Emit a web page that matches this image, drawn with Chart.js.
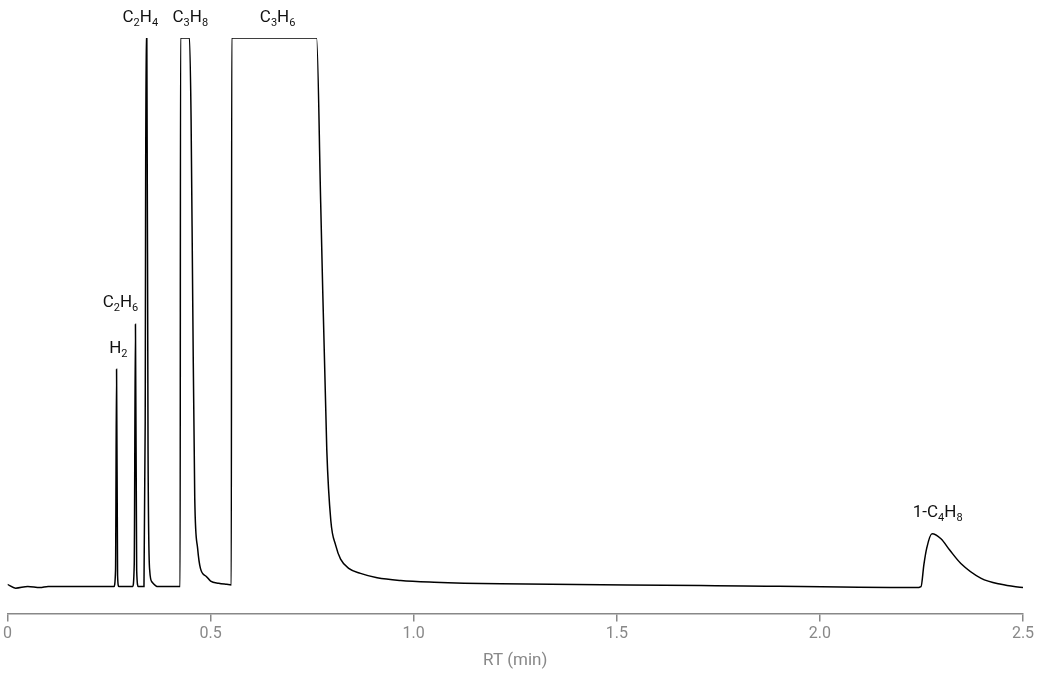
<!DOCTYPE html>
<html>
<head>
<meta charset="utf-8">
<script src="https://cdn.jsdelivr.net/npm/chart.js@4"></script>
<style>
  html, body { margin: 0; padding: 0; background: #fff; }
  #wrap { width: 1045px; height: 687px; }
</style>
</head>
<body>
<div id="wrap"><canvas id="gc"></canvas></div>
<script>
// retention time (min) and detector signal (% of clipped top)
var rt = [0, 0.02, 0.05, 0.08, 0.1, 0.2, 0.262, 0.266, 0.2685, 0.271, 0.274,
  0.308, 0.312, 0.315, 0.318, 0.322, 0.336, 0.339, 0.341, 0.343, 0.346, 0.35, 0.356, 0.37, 0.425,
  0.426, 0.448, 0.452, 0.456, 0.461, 0.468, 0.475, 0.49, 0.5, 0.52, 0.54, 0.551,
  0.552, 0.761, 0.771, 0.786, 0.796, 0.808, 0.82, 0.84, 0.869, 0.91, 0.968, 1.05, 1.214, 1.707, 2.236,
  2.249, 2.256, 2.263, 2.276, 2.298, 2.32, 2.347, 2.397, 2.446, 2.5];
var signal = [0.4, -0.3, 0.0, -0.2, 0, 0, 0, 3, 39.6, 2, 0,
  0, 4, 47.8, 3, 0, 0, 30, 100, 100, 25, 3, 0.8, 0, 0,
  100, 100, 85, 52, 16, 7, 3.3, 1.8, 1.0, 0.6, 0.4, 0.3,
  100, 100, 70, 25, 12, 7.5, 5, 3.3, 2.4, 1.6, 1.1, 0.8, 0.5, 0.2, -0.2,
  0, 4, 7, 9.6, 8.7, 6.6, 4.2, 1.5, 0.4, -0.2];

var peakNames = ['H_2', 'C_2H_6', 'C_2H_4', 'C_3H_8', 'C_3H_6', '1-C_4H_8'];
var peakRt = [0.273, 0.278, 0.327, 0.45, 0.665, 2.29];
var peakLabelY = [42.5, 51, 103, 103, 103, 12.7];

var mainFont = 'Roboto, "Noto Sans", sans-serif';

var labelPlugin = {
  id: 'peakLabels',
  afterDatasetsDraw: function(chart) {
    var ctx = chart.ctx, xs = chart.scales.x, ys = chart.scales.y;
    ctx.save();
    ctx.fillStyle = '#111';
    ctx.textBaseline = 'alphabetic';
    for (var i = 0; i < peakNames.length; i++) {
      var parts = [];
      var s = peakNames[i];
      for (var j = 0; j < s.length; j++) {
        if (s[j] === '_') { parts.push({t: s[j + 1], sub: true}); j++; }
        else parts.push({t: s[j], sub: false});
      }
      var w = 0;
      parts.forEach(function(p) {
        ctx.font = (p.sub ? '11px ' : '17px ') + mainFont;
        p.w = ctx.measureText(p.t).width;
        w += p.w;
      });
      var x = xs.getPixelForValue(peakRt[i]) - w / 2;
      var y = ys.getPixelForValue(peakLabelY[i]);
      parts.forEach(function(p) {
        ctx.font = (p.sub ? '11px ' : '17px ') + mainFont;
        ctx.fillText(p.t, x, p.sub ? y + 4 : y);
        x += p.w;
      });
    }
    ctx.restore();
  }
};

var points = rt.map(function(t, i) { return {x: t, y: signal[i]}; });

new Chart(document.getElementById('gc'), {
  type: 'line',
  data: {
    datasets: [{
      data: points,
      borderColor: '#000',
      borderWidth: 1.5,
      pointRadius: 0,
      cubicInterpolationMode: 'monotone',
      fill: false
    }]
  },
  options: {
    responsive: true,
    maintainAspectRatio: false,
    animation: false,
    layout: { padding: { top: 38, left: 0, right: 22, bottom: 12 } },
    plugins: { legend: { display: false }, tooltip: { enabled: false } },
    scales: {
      x: {
        type: 'linear',
        min: 0, max: 2.5,
        ticks: { stepSize: 0.5, color: '#888', font: { family: mainFont, size: 16 },
          callback: function(v) { return v === 0 ? '0' : v.toFixed(1); } },
        grid: { display: true, drawOnChartArea: false, drawTicks: true, tickLength: 8, color: '#888', lineWidth: 1.5 },
        border: { color: '#888', width: 1.5 },
        title: { display: true, text: 'RT (min)', color: '#888', font: { family: mainFont, size: 17 } }
      },
      y: {
        display: false,
        min: -4.9, max: 100
      }
    }
  },
  plugins: [labelPlugin]
});
</script>
</body>
</html>
